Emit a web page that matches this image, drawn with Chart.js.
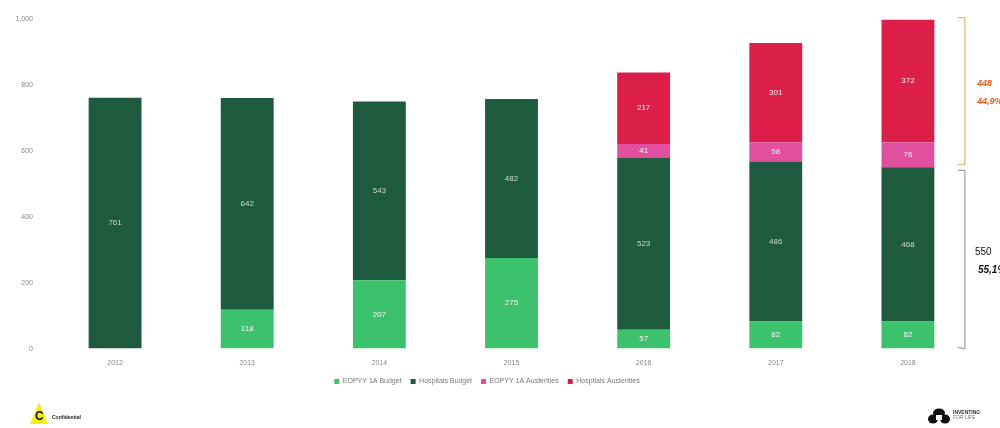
<!DOCTYPE html>
<html>
<head>
<meta charset="utf-8">
<script src="https://cdn.jsdelivr.net/npm/chart.js@4.4.1/dist/chart.umd.min.js"></script>
<style>
  html, body { margin: 0; padding: 0; background: #fff; }
  #wrap { position: relative; width: 1000px; height: 428px; overflow: hidden; }
  #grafico { position: absolute; left: 0; top: 0; }
  .tri { position: absolute; left: 30px; top: 402px; width: 0; height: 0;
         border-left: 9px solid transparent; border-right: 9px solid transparent; border-bottom: 22px solid #f4ef1c; }
  .tri span { position: absolute; left: -4px; top: 7px; font: bold 12px 'Liberation Sans', Arial, sans-serif; color: #111; }
  .conf-txt { position: absolute; left: 52px; top: 414px; font: bold 5px 'Liberation Sans', Arial, sans-serif; color: #222; }
  .msd { position: absolute; left: 928px; top: 408px; width: 22px; height: 16px; }
  .msd-txt { position: absolute; left: 953px; top: 410px; font: bold 5px 'Liberation Sans', Arial, sans-serif; color: #333; line-height: 5px; }
</style>
</head>
<body>
<div id="wrap">
  <canvas id="grafico" width="1000" height="428"></canvas>
  <div class="tri"><span>C</span></div>
  <div class="conf-txt">Confidential</div>
  <svg class="msd" viewBox="0 0 22 16">
    <ellipse cx="11" cy="5" rx="6" ry="4.5" fill="#111"/>
    <ellipse cx="5" cy="11" rx="5" ry="4.5" fill="#111"/>
    <ellipse cx="17" cy="11" rx="5" ry="4.5" fill="#111"/>
    <rect x="8" y="7" width="6" height="5" fill="#fff"/>
  </svg>
  <div class="msd-txt">INVENTING<br><span style="font-weight:normal;color:#777">FOR LIFE</span></div>
</div>
<script>
const anios = ['2012', '2013', '2014', '2015', '2016', '2017', '2018'];
const eopyyBudget = [0, 118, 207, 275, 57, 82, 82];
const hospBudget = [761, 642, 543, 482, 523, 486, 468];
const eopyyAust = [0, 0, 0, 0, 41, 58, 76];
const hospAust = [0, 0, 0, 0, 217, 301, 372];
const yTicks = [0, 200, 400, 600, 800, 1000];

const fuente = "'Liberation Sans', Arial, sans-serif";

// etiquetas dentro de las barras
const etiquetas = {
  id: 'etiquetas',
  afterDatasetsDraw(chart) {
    const ctx = chart.ctx;
    ctx.save();
    ctx.font = '8px ' + fuente;
    ctx.textAlign = 'center';
    ctx.textBaseline = 'middle';
    chart.data.datasets.forEach((ds, i) => {
      chart.getDatasetMeta(i).data.forEach((bar, j) => {
        const v = ds.data[j];
        if (!v) return;
        ctx.fillStyle = i === 1 ? '#c9ddc9' : '#f2f2f2';
        ctx.fillText(v, bar.x, (bar.y + bar.base) / 2);
      });
    });
    ctx.restore();
  }
};

// llaves de la derecha (2018)
const llaves = {
  id: 'llaves',
  afterDatasetsDraw(chart) {
    const ctx = chart.ctx;
    const y = chart.scales.y;
    const x = chart.scales.x.getPixelForValue(6) + 57;
    const n = 6;
    const base = eopyyBudget[n] + hospBudget[n];
    const aust = eopyyAust[n] + hospAust[n];
    const total = base + aust;
    const y0 = y.getPixelForValue(0);
    const y1 = y.getPixelForValue(base);
    const y2 = y.getPixelForValue(total);

    ctx.save();
    ctx.lineWidth = 1;
    ctx.strokeStyle = '#e0a060';
    ctx.beginPath();
    ctx.moveTo(x - 7, y2 - 2); ctx.lineTo(x, y2 - 2); ctx.lineTo(x, y1 - 3); ctx.lineTo(x - 7, y1 - 3);
    ctx.stroke();
    ctx.strokeStyle = '#8a8a8a';
    ctx.beginPath();
    ctx.moveTo(x - 7, y1 + 3); ctx.lineTo(x, y1 + 3); ctx.lineTo(x, y0); ctx.lineTo(x - 7, y0 - 1);
    ctx.stroke();

    ctx.textBaseline = 'middle';
    ctx.textAlign = 'left';
    const mA = (y1 + y2) / 2;
    ctx.fillStyle = '#e8601c';
    ctx.font = 'italic bold 9px ' + fuente;
    ctx.fillText(String(aust), x + 12, mA - 10);
    ctx.fillText((aust / total * 100).toFixed(1).replace('.', ',') + '%', x + 12, mA + 8);
    const mB = (y0 + y1) / 2;
    ctx.fillStyle = '#111';
    ctx.font = '10px ' + fuente;
    ctx.fillText(String(base), x + 10, mB - 6);
    ctx.font = 'italic bold 10px ' + fuente;
    ctx.fillText((base / total * 100).toFixed(1).replace('.', ',') + '%', x + 13, mB + 12);
    ctx.restore();
  }
};

const ctx = document.getElementById('grafico').getContext('2d');
new Chart(ctx, {
  type: 'bar',
  data: {
    labels: anios,
    datasets: [
      { label: 'EOPYY 1A Budget', data: eopyyBudget, backgroundColor: '#3cc26c' },
      { label: 'Hospitals Budget', data: hospBudget, backgroundColor: '#1d5a3e' },
      { label: 'EOPYY 1A Austerities', data: eopyyAust, backgroundColor: '#e0509e' },
      { label: 'Hospitals Austerities', data: hospAust, backgroundColor: '#dc1f48' }
    ]
  },
  options: {
    responsive: false,
    animation: false,
    layout: { padding: { top: 19, right: 26, bottom: 33, left: 0 } },
    datasets: { bar: { barPercentage: 0.4, categoryPercentage: 1 } },
    scales: {
      x: {
        stacked: true,
        grid: { display: false },
        border: { display: false },
        ticks: { color: '#888', font: { family: fuente, size: 7 }, padding: 2 }
      },
      y: {
        stacked: true,
        min: 0,
        max: 1000,
        afterBuildTicks: s => { s.ticks = yTicks.map(v => ({ value: v })); },
        afterFit: s => { s.width = 49; },
        grid: { display: false },
        border: { display: false },
        ticks: {
          color: '#888',
          font: { family: fuente, size: 7 },
          padding: 8,
          callback: v => v.toLocaleString('de-DE')
        }
      }
    },
    plugins: {
      tooltip: { enabled: false },
      legend: {
        position: 'bottom',
        labels: {
          color: '#777',
          font: { family: fuente, size: 7 },
          boxWidth: 5,
          boxHeight: 5,
          padding: 9
        }
      }
    }
  },
  plugins: [etiquetas, llaves]
});
</script>
</body>
</html>
